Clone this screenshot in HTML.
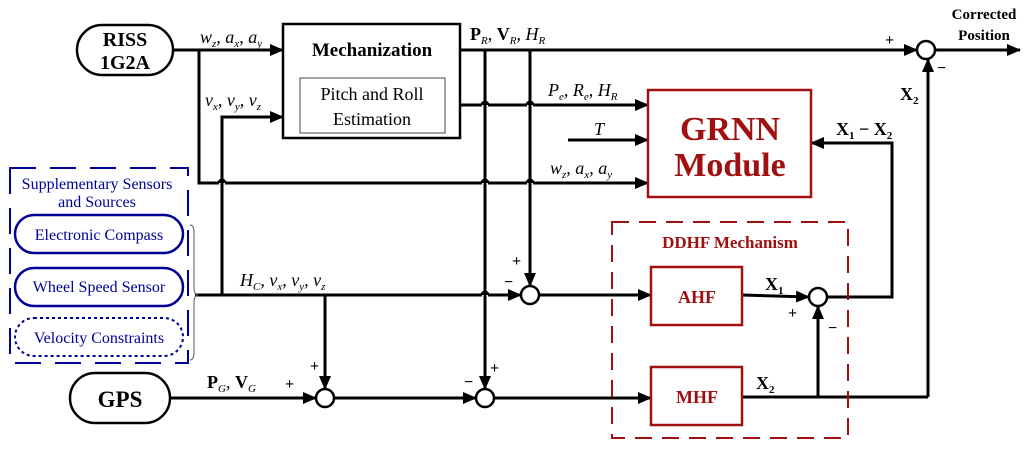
<!DOCTYPE html>
<html><head><meta charset="utf-8"><style>
body{margin:0;background:#fff}
svg{display:block}
text{font-family:"Liberation Serif",serif}
.b{font-weight:bold}
.i{font-style:italic}
</style></head><body>
<svg width="1024" height="451" viewBox="0 0 1024 451" xmlns="http://www.w3.org/2000/svg">
<defs>
<marker id="a" markerWidth="14" markerHeight="12" refX="13" refY="6" orient="auto" markerUnits="userSpaceOnUse" viewBox="0 0 14 12"><path d="M0,0 L14,6 L0,12 z" fill="#000"/></marker>
</defs>
<g stroke="#000" stroke-width="3" fill="none">
<rect x="77" y="25" width="96" height="50" rx="25" stroke-width="2.5"/>
<line x1="173" y1="50" x2="283" y2="50" marker-end="url(#a)"/>
<polyline points="199,50 199,183 219,183"/>
<path d="M219,183 a3,3 0 0 1 6,0"/>
<line x1="225" y1="183" x2="482" y2="183"/>
<path d="M482,183 a3,3 0 0 1 6,0"/>
<line x1="488" y1="183" x2="527" y2="183"/>
<path d="M527,183 a3,3 0 0 1 6,0"/>
<line x1="533" y1="183" x2="648" y2="183" marker-end="url(#a)"/>
<polyline points="222,295 222,117 283,117" marker-end="url(#a)"/>
<rect x="283" y="24" width="177" height="114" stroke-width="2.5"/>
<rect x="300" y="78" width="145" height="55" stroke-width="1" stroke="#444"/>
<line x1="460" y1="50" x2="917" y2="50" marker-end="url(#a)"/>
<line x1="936" y1="50" x2="1020" y2="50" marker-end="url(#a)"/>
<line x1="460" y1="105" x2="482" y2="105"/>
<path d="M482,105 a3,3 0 0 1 6,0"/>
<line x1="488" y1="105" x2="527" y2="105"/>
<path d="M527,105 a3,3 0 0 1 6,0"/>
<line x1="533" y1="105" x2="648" y2="105" marker-end="url(#a)"/>
<line x1="568" y1="140" x2="648" y2="140" marker-end="url(#a)"/>
<line x1="485" y1="50" x2="485" y2="389" marker-end="url(#a)"/>
<line x1="530" y1="50" x2="530" y2="286" marker-end="url(#a)"/>
<line x1="195" y1="295" x2="482" y2="295"/>
<path d="M482,295 a3,3 0 0 1 6,0"/>
<line x1="488" y1="295" x2="521" y2="295" marker-end="url(#a)"/>
<line x1="325" y1="295" x2="325" y2="389" marker-end="url(#a)"/>
<circle cx="530" cy="295" r="9" stroke-width="2.5"/>
<line x1="539" y1="295" x2="651" y2="295" marker-end="url(#a)"/>
<rect x="70" y="373" width="100" height="50" rx="25" stroke-width="2.5"/>
<line x1="170" y1="398" x2="316" y2="398" marker-end="url(#a)"/>
<circle cx="325" cy="398" r="9" stroke-width="2.5"/>
<line x1="334" y1="398" x2="476" y2="398" marker-end="url(#a)"/>
<circle cx="485" cy="398" r="9" stroke-width="2.5"/>
<line x1="494" y1="398" x2="651" y2="398" marker-end="url(#a)"/>
<line x1="742" y1="295" x2="809" y2="297" marker-end="url(#a)"/>
<circle cx="818" cy="297" r="9" stroke-width="2.5"/>
<line x1="742" y1="397" x2="928" y2="397"/>
<line x1="818" y1="397" x2="818" y2="306" marker-end="url(#a)"/>
<line x1="928" y1="397" x2="928" y2="59" marker-end="url(#a)"/>
<circle cx="926" cy="50" r="9" stroke-width="2.5"/>
<polyline points="827,297 892,297 892,143 811,143" marker-end="url(#a)"/>
</g>
<g stroke="#a01010" fill="none">
<rect x="648" y="90" width="163" height="107" stroke-width="2.5"/>
<rect x="651" y="267" width="91" height="58" stroke-width="2.5"/>
<rect x="651" y="367" width="91" height="58" stroke-width="2.5"/>
<rect x="612" y="222" width="236" height="216" stroke-width="2" stroke-dasharray="17,10"/>
</g>
<g stroke="#000098" fill="none">
<rect x="10" y="168" width="178" height="195" stroke-width="2" stroke-dasharray="26,14"/>
<rect x="15" y="215" width="168" height="38" rx="19" stroke-width="2.5"/>
<rect x="15" y="268" width="168" height="38" rx="19" stroke-width="2.5"/>
<rect x="15" y="318" width="168" height="38" rx="19" stroke-width="2" stroke-dasharray="3,3"/>
</g>
<path d="M190,225 q4,0 4,8 v54 q0,8 4,8 q-4,0 -4,8 v49 q0,8 -4,8" stroke="#555" stroke-width="1" fill="none"/>
<g font-size="20" fill="#000">
<text x="125" y="46" text-anchor="middle" class="b">RISS</text>
<text x="125" y="69" text-anchor="middle" class="b">1G2A</text>
<text x="120" y="407" text-anchor="middle" class="b" font-size="23">GPS</text>
<text x="372" y="56" text-anchor="middle" class="b" font-size="19">Mechanization</text>
<text x="372" y="100" text-anchor="middle" font-size="18">Pitch and Roll</text>
<text x="372" y="125" text-anchor="middle" font-size="18">Estimation</text>
<text x="984" y="19" text-anchor="middle" class="b" font-size="15">Corrected</text>
<text x="984" y="40" text-anchor="middle" class="b" font-size="15">Position</text>
</g>
<g font-size="18" fill="#000">
<text x="200" y="43" class="i">w<tspan font-size="11" dy="4">z</tspan><tspan dy="-4">, a</tspan><tspan font-size="11" dy="4">x</tspan><tspan dy="-4">, a</tspan><tspan font-size="11" dy="4">y</tspan></text>
<text x="205" y="106" class="i">v<tspan font-size="11" dy="4">x</tspan><tspan dy="-4">, v</tspan><tspan font-size="11" dy="4">y</tspan><tspan dy="-4">, v</tspan><tspan font-size="11" dy="4">z</tspan></text>
<text x="470" y="40"><tspan class="b">P</tspan><tspan font-size="11" dy="4" class="i">R</tspan><tspan dy="-4">, </tspan><tspan class="b">V</tspan><tspan font-size="11" dy="4" class="i">R</tspan><tspan dy="-4" class="i">, H</tspan><tspan font-size="11" dy="4" class="i">R</tspan></text>
<text x="548" y="96" class="i">P<tspan font-size="11" dy="4">e</tspan><tspan dy="-4">, R</tspan><tspan font-size="11" dy="4">e</tspan><tspan dy="-4">, H</tspan><tspan font-size="11" dy="4">R</tspan></text>
<text x="594" y="135" class="i">T</text>
<text x="550" y="174" class="i">w<tspan font-size="11" dy="4">z</tspan><tspan dy="-4">, a</tspan><tspan font-size="11" dy="4">x</tspan><tspan dy="-4">, a</tspan><tspan font-size="11" dy="4">y</tspan></text>
<text x="240" y="286" class="i">H<tspan font-size="11" dy="4">C</tspan><tspan dy="-4">, v</tspan><tspan font-size="11" dy="4">x</tspan><tspan dy="-4">, v</tspan><tspan font-size="11" dy="4">y</tspan><tspan dy="-4">, v</tspan><tspan font-size="11" dy="4">z</tspan></text>
<text x="207" y="388"><tspan class="b">P</tspan><tspan font-size="11" dy="4" class="i">G</tspan><tspan dy="-4">, </tspan><tspan class="b">V</tspan><tspan font-size="11" dy="4" class="i">G</tspan></text>
<text x="836" y="135" class="b">X<tspan font-size="11" dy="4">1</tspan><tspan dy="-4"> − X</tspan><tspan font-size="11" dy="4">2</tspan></text>
<text x="900" y="100" class="b">X<tspan font-size="11" dy="4">2</tspan></text>
<text x="765" y="290" class="b">X<tspan font-size="11" dy="4">1</tspan></text>
<text x="756" y="389" class="b">X<tspan font-size="11" dy="4">2</tspan></text>
</g>
<g font-size="16" fill="#000" font-family="Liberation Sans,sans-serif" font-weight="bold">
<text x="885" y="45">+</text><text x="937" y="73">−</text>
<text x="512" y="266">+</text><text x="504" y="287">−</text>
<text x="310" y="371">+</text><text x="285" y="389">+</text>
<text x="490" y="373">+</text><text x="464" y="387">−</text>
<text x="788" y="318">+</text><text x="828" y="333">−</text>
</g>
<g fill="#a01010" class="b" text-anchor="middle">
<text x="730" y="140" font-size="34">GRNN</text>
<text x="730" y="176" font-size="34">Module</text>
<text x="730" y="248" font-size="17">DDHF Mechanism</text>
<text x="697" y="303" font-size="18">AHF</text>
<text x="697" y="403" font-size="18">MHF</text>
</g>
<g fill="#000098" font-size="16" text-anchor="middle">
<text x="97" y="189">Supplementary Sensors</text>
<text x="97" y="207">and Sources</text>
<text x="99" y="240">Electronic Compass</text>
<text x="99" y="292">Wheel Speed Sensor</text>
<text x="99" y="343">Velocity Constraints</text>
</g>
</svg>
</body></html>
